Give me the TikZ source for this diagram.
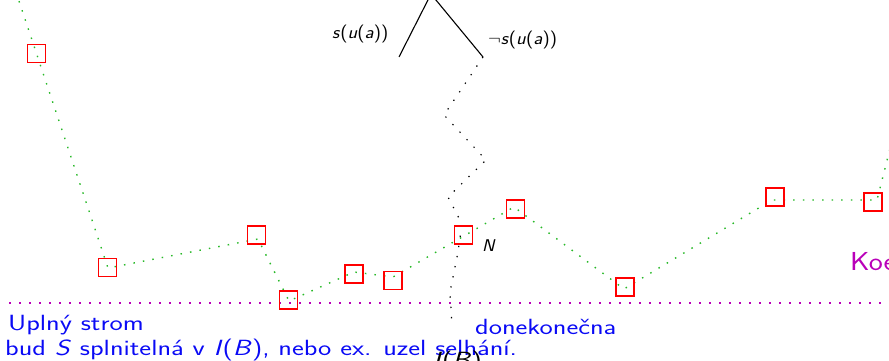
\documentclass[tikz,border=0pt]{standalone}
\usepackage{fontspec}
\usepackage{graphicx}
\definecolor{dotgreen}{RGB}{40,185,40}
\definecolor{slidemag}{RGB}{185,0,185}
\definecolor{slideblue}{RGB}{10,10,245}
\definecolor{boxred}{RGB}{255,0,0}
\newcommand{\wider}[2]{\scalebox{#1}[1]{#2}}
\tikzset{
  redbox/.style={draw=boxred, line width=1.4pt, minimum size=18pt, inner sep=0pt, rectangle},
  greenpath/.style={draw=dotgreen, line width=1.4pt, dash pattern=on 1.5pt off 8.1pt},
  blackpath/.style={draw=black, line width=1.2pt, dash pattern=on 1.3pt off 9pt},
  magline/.style={draw=slidemag, line width=1.1pt, dash pattern=on 2pt off 8pt},
  bluetext/.style={text=slideblue, font=\sffamily\fontsize{22pt}{26pt}\selectfont, inner sep=0pt, anchor=base west},
  smalllbl/.style={text=black, font=\sffamily\fontsize{18pt}{21pt}\selectfont, inner sep=0pt, anchor=base west},
}
\begin{document}
\begin{tikzpicture}[x=1pt,y=-1pt]
\useasboundingbox (0,0) rectangle (889,361);
\clip (0,0) rectangle (889,361);
% magenta dotted baseline
\coordinate (m1) at (9,303);
\coordinate (m2) at (895,303);
\draw[magline] (m1) -- (m2);
% tree branches
\coordinate (apex) at (431,-6);
\coordinate (lend) at (399,57);
\coordinate (rend) at (483,57);
\draw[line width=1.1pt] (apex) -- (lend);
\draw[line width=1.1pt] (apex) -- (rend);
\node[smalllbl] (sl) at (332,39) {\wider{1.1}{\textsl{s}(\textsl{u}(\textsl{a}))}};
\node[smalllbl] (nsl) at (488,45) {\wider{1.1}{$\neg$\textsl{s}(\textsl{u}(\textsl{a}))}};
% black zigzag
\coordinate (z1) at (444,115);
\coordinate (z2) at (486,160);
\coordinate (z3) at (448,197);
\coordinate (z4) at (462,224);
\coordinate (z5) at (458,252);
\coordinate (z6) at (450,292);
\coordinate (z7) at (452,326);
\draw[blackpath] (rend) -- (z1) -- (z2) -- (z3) -- (z4) -- (z5) -- (z6) -- (z7);
% green path
\coordinate (g0) at (16,-8);
\coordinate (g1) at (37,55);
\coordinate (g2) at (108,268);
\coordinate (g3) at (258,239);
\coordinate (g4) at (289,301);
\coordinate (g5) at (354,272);
\coordinate (g6) at (393,277);
\coordinate (g7) at (514,207);
\coordinate (g8) at (624,289);
\coordinate (g9) at (772,200);
\coordinate (g10) at (877,200);
\coordinate (g11) at (896,125);
\draw[greenpath] (g0) -- (g1) -- (g2) -- (g3) -- (g4) -- (g5) -- (g6) -- (g7) -- (g8) -- (g9) -- (g10) -- (g11);
% red boxes
\node[redbox] (b1) at (36.5,53.5) {};
\node[redbox] (b2) at (107.5,267.5) {};
\node[redbox] (b3) at (256.5,235) {};
\node[redbox] (b4) at (288.5,300) {};
\node[redbox] (b5) at (354,274) {};
\node[redbox] (b6) at (393,280.5) {};
\node[redbox] (b7) at (463.5,235) {};
\node[redbox] (b8) at (515.5,209) {};
\node[redbox] (b9) at (625,287) {};
\node[redbox] (b10) at (775,197) {};
\node[redbox] (b11) at (873,202) {};
\node[smalllbl, font=\sffamily\fontsize{17pt}{20pt}\selectfont] (nl) at (482,251.7) {\wider{1.1}{\textsl{N}}};
% texts
\node[bluetext] (t1) at (8,330) {\wider{1.28}{Uplný strom}};
\node[bluetext] (t2) at (5,355) {\wider{1.28}{bud \textsl{S} splnitelná v \textsl{I}(\textsl{B}), nebo ex. uzel selhání.}};
\node[bluetext] (t3) at (475,334) {\wider{1.28}{donekonečna}};
\node[bluetext, text=black] (t4) at (433,367) {\wider{1.28}{\textsl{I}(\textsl{B})}};
\node[bluetext, text=slidemag, font=\sffamily\fontsize{26pt}{30pt}\selectfont] (t5) at (850,270.7) {\wider{1.15}{Koe}};
\end{tikzpicture}
\end{document}
